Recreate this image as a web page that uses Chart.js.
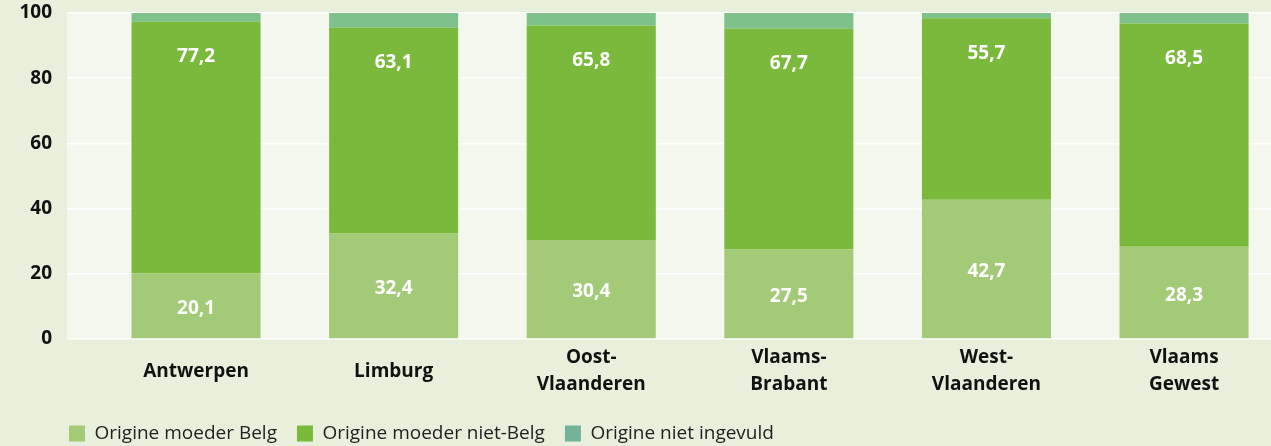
<!DOCTYPE html>
<html>
<head>
<meta charset="utf-8">
<script src="https://cdn.jsdelivr.net/npm/chart.js@4/dist/chart.umd.min.js"></script>
<style>
  html, body { margin: 0; padding: 0; background: #e8f0dc; }
  #wrap { width: 1271px; height: 446px; }
</style>
</head>
<body>
<div id="wrap"><canvas id="chart" width="1271" height="446"></canvas></div>
<script>
const provinces = [
  "Antwerpen",
  "Limburg",
  ["Oost-", "Vlaanderen"],
  ["Vlaams-", "Brabant"],
  ["West-", "Vlaanderen"],
  ["Vlaams", "Gewest"],
];
const moederBelg = [20.1, 32.4, 30.4, 27.5, 42.7, 28.3];
const moederNietBelg = [77.2, 63.1, 65.8, 67.7, 55.7, 68.5];
const nietIngevuld = [2.7, 4.5, 3.8, 4.8, 1.6, 3.2];
const yTicks = [0, 20, 40, 60, 80, 100];

const FONT = "'Open Sans', 'Noto Sans', sans-serif";
const legendColors = ["#a3ca76", "#7ab93b", "#74b39a"];

// bars sit on a numeric x axis so the columns can be shifted inside the panel
const points = (arr) => arr.map((y, i) => ({ x: i, y: y }));

// light panel behind the plot area
const plotBg = {
  id: "plotBg",
  beforeDraw(chart) {
    const { ctx, chartArea: { left, top, width, height } } = chart;
    ctx.save();
    ctx.fillStyle = "#f4f7ee";
    ctx.fillRect(left, top, width, height);
    ctx.restore();
  },
};

// legend starts under the plot area, not at the canvas edge
const legendShift = {
  id: "legendShift",
  afterLayout(chart) {
    chart.legend.left = chart.chartArea.left - 18;
  },
};

// white numbers inside the two big segments
const segmentLabels = {
  id: "segmentLabels",
  afterDatasetsDraw(chart) {
    const { ctx } = chart;
    ctx.save();
    ctx.font = `bold 19px ${FONT}`;
    ctx.fillStyle = "#ffffff";
    ctx.textAlign = "center";
    ctx.textBaseline = "middle";
    [0, 1].forEach((di) => {
      const meta = chart.getDatasetMeta(di);
      meta.data.forEach((bar, i) => {
        const v = chart.data.datasets[di].data[i].y;
        const y = di === 0 ? (bar.y + bar.base) / 2 + 3 : bar.y + 35;
        ctx.fillText(v.toFixed(1).replace(".", ","), bar.x, y);
      });
    });
    ctx.restore();
  },
};

new Chart(document.getElementById("chart").getContext("2d"), {
  type: "bar",
  plugins: [plotBg, legendShift, segmentLabels],
  data: {
    datasets: [
      { label: "Origine moeder Belg", data: points(moederBelg), backgroundColor: "#a3ca76" },
      { label: "Origine moeder niet-Belg", data: points(moederNietBelg), backgroundColor: "#7ab93b" },
      { label: "Origine niet ingevuld", data: points(nietIngevuld), backgroundColor: "#7fc18a" },
    ],
  },
  options: {
    responsive: false,
    animation: false,
    barPercentage: 0.653,
    categoryPercentage: 1,
    layout: { padding: { top: 13, right: 0, left: 0, bottom: -7 } },
    scales: {
      x: {
        type: "linear",
        stacked: true,
        offset: false,
        min: -0.653,
        max: 5.44,
        afterBuildTicks(axis) {
          axis.ticks = provinces.map((p, i) => ({ value: i }));
        },
        afterFit(axis) {
          axis.height = 65;
        },
        grid: { display: false, offset: false },
        border: { display: false },
        ticks: {
          color: "#111111",
          font: { family: FONT, size: 19, weight: "bold", lineHeight: 1.4 },
          padding: 11,
          maxRotation: 0,
          crossAlign: "center",
          callback: (value) => provinces[value],
        },
      },
      y: {
        stacked: true,
        min: 0,
        max: 100,
        afterBuildTicks(axis) {
          axis.ticks = yTicks.map((v) => ({ value: v }));
        },
        afterFit(axis) {
          axis.width = 67;
          axis.paddingTop = 0;
          axis.paddingBottom = 0;
        },
        grid: { color: "#ffffff", lineWidth: 1.5, drawTicks: false },
        border: { display: false },
        ticks: {
          color: "#111111",
          font: { family: FONT, size: 19, weight: "bold" },
          padding: 15,
        },
      },
    },
    plugins: {
      tooltip: { enabled: false },
      legend: {
        position: "bottom",
        align: "start",
        labels: {
          color: "#222222",
          font: { family: FONT, size: 19 },
          boxWidth: 16,
          boxHeight: 16,
          padding: 20,
          generateLabels(chart) {
            return Chart.defaults.plugins.legend.labels.generateLabels(chart).map((item, i) => {
              item.fillStyle = legendColors[i];
              item.strokeStyle = legendColors[i];
              item.lineWidth = 0;
              return item;
            });
          },
        },
      },
    },
  },
});
</script>
</body>
</html>
